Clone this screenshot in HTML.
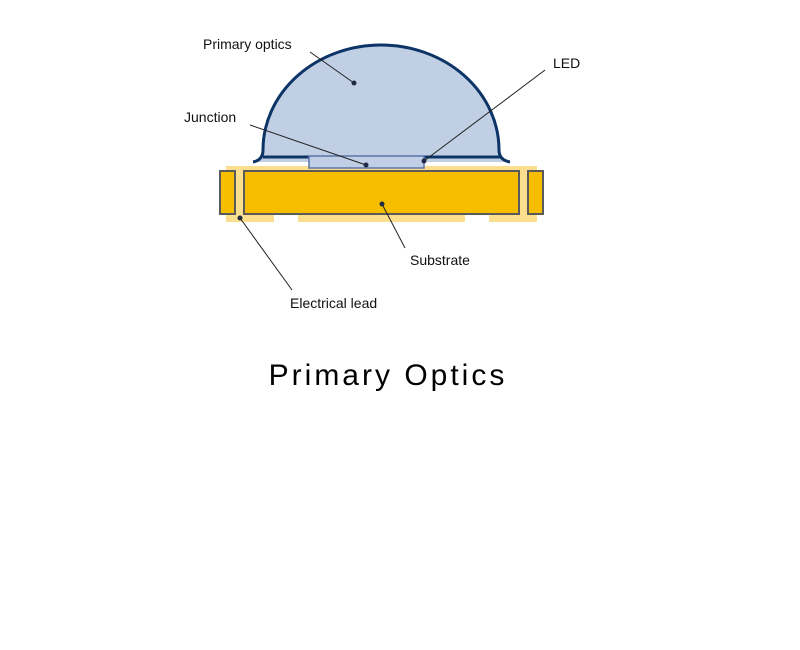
<!DOCTYPE html>
<html><head><style>
body{margin:0;background:#fff;}
svg{display:block;}
text{font-family:"Liberation Sans",sans-serif;}
</style></head><body>
<svg width="800" height="650" viewBox="0 0 800 650">
<!-- pads -->
<rect x="226" y="166" width="311" height="7" fill="#fbdf8e"/>
<rect x="234" y="171" width="12" height="45" fill="#fbdf8e"/>
<rect x="518" y="171" width="12" height="45" fill="#fbdf8e"/>
<rect x="226" y="213" width="48" height="9" fill="#fbdf8e"/>
<rect x="298" y="213" width="167" height="9" fill="#fbdf8e"/>
<rect x="489" y="213" width="48" height="9" fill="#fbdf8e"/>
<!-- dome -->
<path d="M253,162 Q263,160 263,150 A118,105 0 0 1 499,150 Q499,160 510,162 Z" fill="#c0cfe4"/>
<path d="M253,162 Q263,160 263,150 A118,105 0 0 1 499,150 Q499,160 510,162" fill="none" stroke="#0c3466" stroke-width="3"/>
<line x1="263" y1="157" x2="309" y2="157" stroke="#0c3466" stroke-width="3"/>
<line x1="424" y1="157" x2="500" y2="157" stroke="#0c3466" stroke-width="3"/>
<rect x="309" y="156" width="115" height="12" fill="#c0cfe6" stroke="#5a74a8" stroke-width="1.5"/>
<rect x="220" y="171" width="15" height="43" fill="#f7be00" stroke="#5a5a5a" stroke-width="2"/>
<rect x="244" y="171" width="275" height="43" fill="#f7be00" stroke="#5a5a5a" stroke-width="2"/>
<rect x="528" y="171" width="15" height="43" fill="#f7be00" stroke="#5a5a5a" stroke-width="2"/>
<!-- leaders -->
<g stroke="#222" stroke-width="1" fill="none">
<line x1="310" y1="52" x2="354" y2="83"/>
<line x1="250" y1="125" x2="366" y2="165"/>
<line x1="545" y1="70" x2="424" y2="161"/>
<line x1="382" y1="204" x2="405" y2="248"/>
<line x1="240" y1="218" x2="292" y2="290"/>
</g>
<g fill="#1f2a44">
<circle cx="354" cy="83" r="2.5"/><circle cx="366" cy="165" r="2.5"/><circle cx="424" cy="161" r="2.5"/>
<circle cx="382" cy="204" r="2.5"/><circle cx="240" cy="218" r="2.5"/>
</g>
<g font-size="14" fill="#111">
<text x="203" y="49">Primary optics</text>
<text x="184" y="122">Junction</text>
<text x="553" y="68">LED</text>
<text x="410" y="265">Substrate</text>
<text x="290" y="308">Electrical lead</text>
</g>
<text x="388" y="385" font-size="30" text-anchor="middle" letter-spacing="3" fill="#000">Primary Optics</text>
</svg>
</body></html>
